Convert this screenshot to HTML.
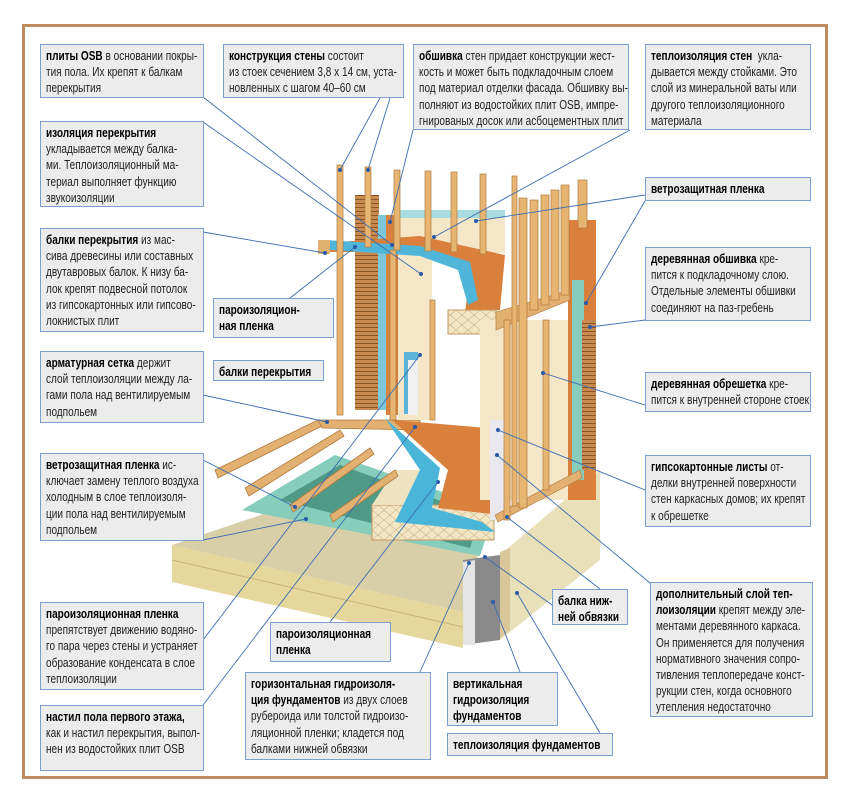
<!DOCTYPE html>
<html><head><meta charset="utf-8"><style>
html,body{margin:0;padding:0;background:#fff;}
body{width:850px;height:802px;position:relative;overflow:hidden;font-family:"Liberation Sans",sans-serif;}
.frame{position:absolute;left:22px;top:24px;width:800px;height:749px;border:3px solid #c08c5e;}
.b{position:absolute;background:#ececec;border:1px solid #7c9fd0;box-sizing:border-box;padding:3px 0 0 5px;font-size:12.8px;line-height:16.2px;color:#222;overflow:visible;}
.b>div{transform:scaleX(0.785);transform-origin:0 0;white-space:nowrap;}
.b b{color:#000;}
svg{position:absolute;left:0;top:0;}
</style></head><body>
<div class="frame"></div>
<svg width="850" height="802" viewBox="0 0 850 802">
<defs>
<pattern id="ins" width="12" height="10" patternUnits="userSpaceOnUse"><rect width="12" height="10" fill="#f3e6c4"/><path d="M0 0L12 10M12 0L0 10" stroke="#c9b58a" stroke-width="0.6"/></pattern>
<pattern id="sid" width="6" height="4" patternUnits="userSpaceOnUse"><rect width="6" height="4" fill="#c88a4e"/><rect y="3" width="6" height="1" fill="#8a5628"/></pattern>
</defs>
<polygon points="172,545 290,505 480,548 463,612" fill="#d8cea8"/>
<polygon points="172,545 463,612 463,648 172,582" fill="#e6d79c"/>
<line x1="172" y1="560" x2="463" y2="627" stroke="#c8b27a"/>
<polygon points="463,560 500,555 500,640 463,645" fill="#8a8a8a"/>
<polygon points="463,562 475,560 475,645 463,645" fill="#e4e4e4"/>
<polygon points="500,555 600,470 600,560 500,640" fill="#e8e0b8"/>
<polygon points="500,552 510,548 510,630 500,638" fill="#d9c79a"/>
<polygon points="242,510 335,455 495,510 480,556" fill="#86cdbc"/>
<polygon points="280,500 340,465 480,515 470,548" fill="#4f9a86"/>
<rect x="372" y="505" width="122" height="35" fill="url(#ins)" stroke="#c49a60"/>
<polygon points="372,505 395,470 430,470 420,505" fill="#efe2c2"/>
<g fill="#e2b070" stroke="#b07a3e" stroke-width="0.8">
<polygon points="215,470 318,420 322,426 218,478"/>
<polygon points="245,488 340,430 344,436 249,496"/>
<polygon points="290,505 370,448 374,454 293,512"/>
<polygon points="330,515 395,470 398,476 333,522"/>
<polygon points="318,420 420,420 420,430 322,428"/>
</g>
<polygon points="385,418 440,468 432,508 482,522 495,532 395,522 420,470" fill="#49b6d9"/>
<polygon points="392,420 488,428 492,514 438,508 448,470" fill="#d9803c"/>
<rect x="355" y="195" width="24" height="215" fill="url(#sid)"/>
<rect x="378" y="215" width="8" height="195" fill="#7cc8d8"/>
<rect x="386" y="215" width="12" height="200" fill="#d9823e"/>
<rect x="398" y="255" width="34" height="165" fill="#f4e6c6"/>
<rect x="404" y="352" width="14" height="62" fill="#5bb4d8"/>
<rect x="408" y="360" width="10" height="55" fill="#f0f0f0"/>
<rect x="432" y="302" width="46" height="118" fill="#fff"/>
<rect x="395" y="213" width="110" height="40" fill="#f4e6c6"/>
<rect x="395" y="210" width="110" height="8" fill="#a8dde0"/>
<polygon points="325,243 420,236 505,255 500,310 465,312 468,290 455,262 420,252 328,252" fill="#d9803c"/>
<polygon points="325,240 420,246 470,262 478,300 468,305 458,270 420,256 330,250" fill="#4fb6da"/>
<rect x="448" y="310" width="48" height="24" fill="url(#ins)" stroke="#c49a60"/>
<rect x="318" y="240" width="12" height="14" fill="#e2b070"/>
<rect x="480" y="320" width="90" height="180" fill="#f4e6c6"/>
<rect x="568" y="220" width="28" height="280" fill="#d9803c"/>
<rect x="572" y="280" width="12" height="200" fill="#86cdbc"/>
<rect x="582" y="320" width="14" height="150" fill="url(#sid)"/>
<rect x="490" y="420" width="14" height="100" fill="#e8e8ee"/>
<polygon points="496,312 570,290 570,300 496,330" fill="#e2b070" stroke="#b07a3e" stroke-width="0.6"/>
<polygon points="495,515 580,470 582,478 498,522" fill="#e2b070" stroke="#b07a3e" stroke-width="0.6"/>
<g fill="#e6b572" stroke="#b07a3e" stroke-width="0.7">
<rect x="337" y="165" width="6" height="250"/><rect x="365" y="167" width="6" height="80"/>
<rect x="394" y="170" width="6" height="80"/><rect x="425" y="171" width="6" height="80"/>
<rect x="451" y="172" width="6" height="80"/><rect x="480" y="174" width="6" height="80"/>
<rect x="512" y="176" width="5" height="330"/>
<rect x="519" y="198" width="8" height="310"/><rect x="530" y="200" width="8" height="110"/>
<rect x="541" y="195" width="8" height="110"/><rect x="551" y="190" width="8" height="110"/>
<rect x="561" y="185" width="8" height="110"/><rect x="578" y="180" width="9" height="48"/>
<rect x="504" y="320" width="6" height="200"/><rect x="543" y="320" width="6" height="170"/>
<rect x="390" y="250" width="6" height="170"/><rect x="430" y="300" width="5" height="120"/>
</g>
<g stroke="#3d6db3" stroke-width="0.9" fill="none">
<line x1="203" y1="97" x2="392" y2="245"/>
<line x1="203" y1="122" x2="421" y2="274"/>
<line x1="380" y1="98" x2="340" y2="170"/>
<line x1="390" y1="98" x2="368" y2="170"/>
<line x1="413" y1="130" x2="390" y2="222"/>
<line x1="630" y1="130" x2="434" y2="237"/>
<line x1="645" y1="195" x2="476" y2="221"/>
<line x1="645" y1="201" x2="586" y2="303"/>
<line x1="645" y1="320" x2="590" y2="327"/>
<line x1="645" y1="405" x2="543" y2="373"/>
<line x1="645" y1="490" x2="498" y2="430"/>
<line x1="650" y1="583" x2="497" y2="455"/>
<line x1="600" y1="589" x2="507" y2="517"/>
<line x1="552" y1="605" x2="485" y2="557"/>
<line x1="203" y1="232" x2="325" y2="253"/>
<line x1="290" y1="298" x2="355" y2="247"/>
<line x1="203" y1="395" x2="327" y2="422"/>
<line x1="203" y1="460" x2="295" y2="507"/>
<line x1="203" y1="540" x2="306" y2="519"/>
<line x1="203" y1="640" x2="420" y2="355"/>
<line x1="203" y1="705" x2="415" y2="427"/>
<line x1="330" y1="622" x2="438" y2="482"/>
<line x1="420" y1="672" x2="469" y2="563"/>
<line x1="520" y1="672" x2="493" y2="602"/>
<line x1="600" y1="733" x2="517" y2="593"/>
</g>
<g fill="#2a5aa8">
<circle cx="392" cy="245" r="2"/><circle cx="421" cy="274" r="2"/><circle cx="340" cy="170" r="2"/><circle cx="368" cy="170" r="2"/>
<circle cx="390" cy="222" r="2"/><circle cx="434" cy="237" r="2"/><circle cx="476" cy="221" r="2"/><circle cx="586" cy="303" r="2"/>
<circle cx="590" cy="327" r="2"/><circle cx="543" cy="373" r="2"/><circle cx="498" cy="430" r="2"/><circle cx="497" cy="455" r="2"/>
<circle cx="507" cy="517" r="2"/><circle cx="485" cy="557" r="2"/><circle cx="325" cy="253" r="2"/><circle cx="355" cy="247" r="2"/>
<circle cx="327" cy="422" r="2"/><circle cx="295" cy="507" r="2"/><circle cx="306" cy="519" r="2"/><circle cx="420" cy="355" r="2"/>
<circle cx="415" cy="427" r="2"/><circle cx="438" cy="482" r="2"/><circle cx="469" cy="563" r="2"/><circle cx="493" cy="602" r="2"/><circle cx="517" cy="593" r="2"/>
</g>
</svg>

<div class="b" style="left:40px;top:44px;width:164px;height:54px"><div><b>плиты OSB</b> в основании покры-<br>тия пола. Их крепят к балкам<br>перекрытия</div></div>
<div class="b" style="left:223px;top:44px;width:181px;height:54px"><div><b>конструкция стены</b> состоит<br>из стоек сечением 3,8 х 14 см, уста-<br>новленных с шагом 40–60 см</div></div>
<div class="b" style="left:413px;top:44px;width:216px;height:86px"><div><b>обшивка</b> стен придает конструкции жест-<br>кость и может быть подкладочным слоем<br>под материал отделки фасада. Обшивку вы-<br>полняют из водостойких плит OSB, импре-<br>гнированых досок или асбоцементных плит</div></div>
<div class="b" style="left:645px;top:44px;width:166px;height:86px"><div><b>теплоизоляция стен</b>&nbsp; укла-<br>дывается между стойками. Это<br>слой из минеральной ваты или<br>другого теплоизоляционного<br>материала</div></div>
<div class="b" style="left:40px;top:121px;width:164px;height:86px"><div><b>изоляция перекрытия</b><br>укладывается между балка-<br>ми. Теплоизоляционный ма-<br>териал выполняет функцию<br>звукоизоляции</div></div>
<div class="b" style="left:645px;top:177px;width:166px;height:24px"><div><b>ветрозащитная пленка</b></div></div>
<div class="b" style="left:40px;top:228px;width:164px;height:104px"><div><b>балки перекрытия</b> из мас-<br>сива древесины или составных<br>двутавровых балок. К низу ба-<br>лок крепят подвесной потолок<br>из гипсокартонных или гипсово-<br>локнистых плит</div></div>
<div class="b" style="left:645px;top:247px;width:166px;height:74px"><div><b>деревянная обшивка</b> кре-<br>пится к подкладочному слою.<br>Отдельные элементы обшивки<br>соединяют на паз-гребень</div></div>
<div class="b" style="left:213px;top:298px;width:121px;height:40px"><div><b>пароизоляцион-<br>ная пленка</b></div></div>
<div class="b" style="left:213px;top:360px;width:111px;height:21px"><div><b>балки перекрытия</b></div></div>
<div class="b" style="left:40px;top:351px;width:164px;height:72px"><div><b>арматурная сетка</b> держит<br>слой теплоизоляции между ла-<br>гами пола над вентилируемым<br>подпольем</div></div>
<div class="b" style="left:645px;top:372px;width:166px;height:40px"><div><b>деревянная обрешетка</b> кре-<br>пится к внутренней стороне стоек</div></div>
<div class="b" style="left:40px;top:453px;width:164px;height:88px"><div><b>ветрозащитная пленка</b> ис-<br>ключает замену теплого воздуха<br>холодным в слое теплоизоля-<br>ции пола над вентилируемым<br>подпольем</div></div>
<div class="b" style="left:645px;top:455px;width:166px;height:72px"><div><b>гипсокартонные листы</b> от-<br>делки внутренней поверхности<br>стен каркасных домов; их крепят<br>к обрешетке</div></div>
<div class="b" style="left:552px;top:589px;width:76px;height:36px"><div><b>балка ниж-<br>ней обвязки</b></div></div>
<div class="b" style="left:650px;top:582px;width:163px;height:135px"><div><b>дополнительный слой теп-<br>лоизоляции</b> крепят между эле-<br>ментами деревянного каркаса.<br>Он применяется для получения<br>нормативного значения сопро-<br>тивления теплопередаче конст-<br>рукции стен, когда основного<br>утепления недостаточно</div></div>
<div class="b" style="left:40px;top:602px;width:164px;height:88px"><div><b>пароизоляционная пленка</b><br>препятствует движению водяно-<br>го пара через стены и устраняет<br>образование конденсата в слое<br>теплоизоляции</div></div>
<div class="b" style="left:270px;top:622px;width:121px;height:40px"><div><b>пароизоляционная<br>пленка</b></div></div>
<div class="b" style="left:245px;top:672px;width:186px;height:88px"><div><b>горизонтальная гидроизоля-<br>ция фундаментов</b> из двух слоев<br>рубероида или толстой гидроизо-<br>ляционной пленки; кладется под<br>балками нижней обвязки</div></div>
<div class="b" style="left:447px;top:672px;width:111px;height:54px"><div><b>вертикальная<br>гидроизоляция<br>фундаментов</b></div></div>
<div class="b" style="left:40px;top:705px;width:164px;height:66px"><div><b>настил пола первого этажа,</b><br>как и настил перекрытия, выпол-<br>нен из водостойких плит OSB</div></div>
<div class="b" style="left:447px;top:733px;width:166px;height:23px"><div><b>теплоизоляция фундаментов</b></div></div>
</body></html>
